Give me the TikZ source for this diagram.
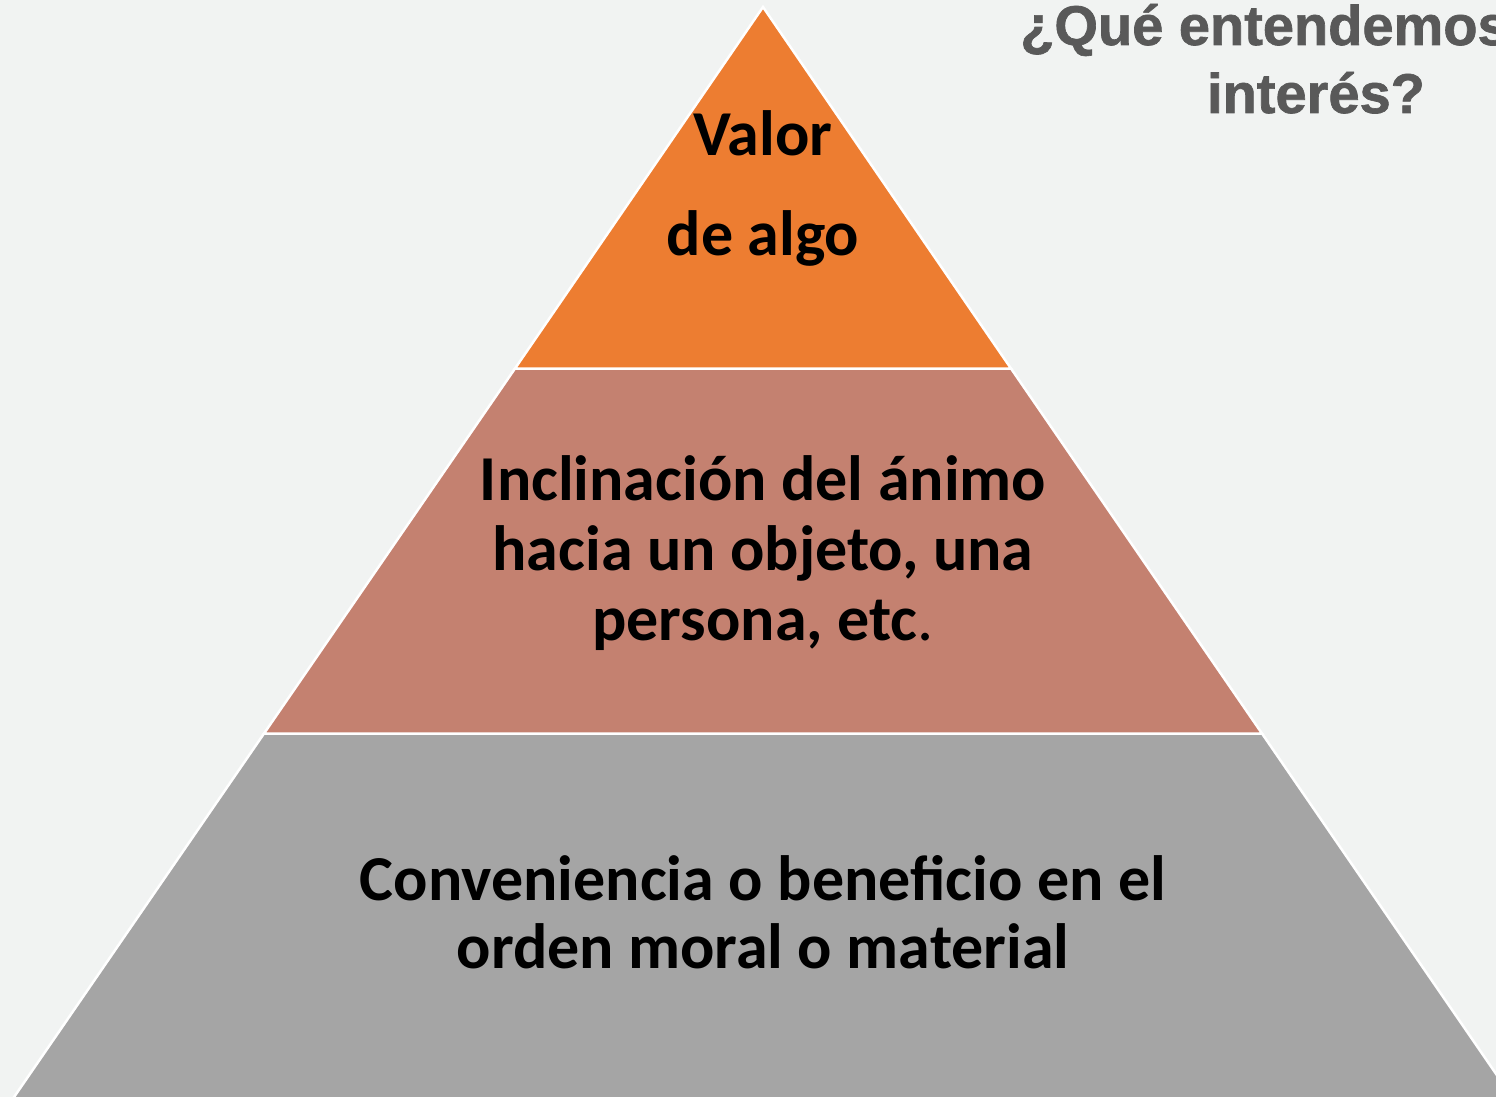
\documentclass[tikz,border=0pt]{standalone}
\usepackage{fontspec}
\setmainfont{Carlito}
\newfontfamily\titlefont[BoldFeatures={FakeBold=1.2}]{Liberation Sans}
\definecolor{bgc}{HTML}{F1F3F2}
\definecolor{tierA}{HTML}{ED7D31}
\definecolor{tierB}{HTML}{C48170}
\definecolor{tierC}{HTML}{A5A5A5}
\definecolor{titlec}{HTML}{595959}
\begin{document}
\begin{tikzpicture}[x=1pt,y=-1pt,
  tier/.style={draw=white,line width=2.5pt,line join=miter},
  tiertext/.style={font=\bfseries\fontsize{64}{69}\selectfont,text=black,align=center,inner sep=0pt},
  titletext/.style={font=\titlefont\bfseries\fontsize{56}{68}\selectfont,text=titlec,inner sep=0pt}]
\useasboundingbox (0,0) rectangle (1496,1097);
\clip (0,0) rectangle (1496,1097);
\fill[bgc] (0,0) rectangle (1496,1097);
% pyramid
\coordinate (apex) at (763,7);
\coordinate (l1) at (515,368.5);
\coordinate (r1) at (1011,368.5);
\coordinate (l2) at (264,733.5);
\coordinate (r2) at (1262,733.5);
\coordinate (l3) at (12,1100);
\coordinate (r3) at (1514,1100);
\path[tier,fill=tierC] (l2) -- (r2) -- (r3) -- (l3) -- cycle;
\path[tier,fill=tierB] (l1) -- (r1) -- (r2) -- (l2) -- cycle;
\path[tier,fill=tierA] (apex) -- (r1) -- (l1) -- cycle;
% texts
\node[tiertext,anchor=base] (t1a) at (763,155) {Valor};
\node[tiertext,anchor=base] (t1b) at (763,255) {de algo};
\node[tiertext,anchor=base] (t2a) at (763,500) {Inclinación del ánimo};
\node[tiertext,anchor=base] (t2b) at (763,570) {hacia un objeto, una};
\node[tiertext,anchor=base] (t2c) at (763,640) {persona, etc{\mdseries.}};
\node[tiertext,anchor=base] (t3a) at (763,900) {Conveniencia o beneficio en el};
\node[tiertext,anchor=base] (t3b) at (763,968) {orden moral o material};
% title
\node[titletext,anchor=base west] (title1) at (1020,45) {¿Qué entendemos};
\node[titletext,anchor=base] (title2) at (1316,113) {interés?};
\end{tikzpicture}
\end{document}
